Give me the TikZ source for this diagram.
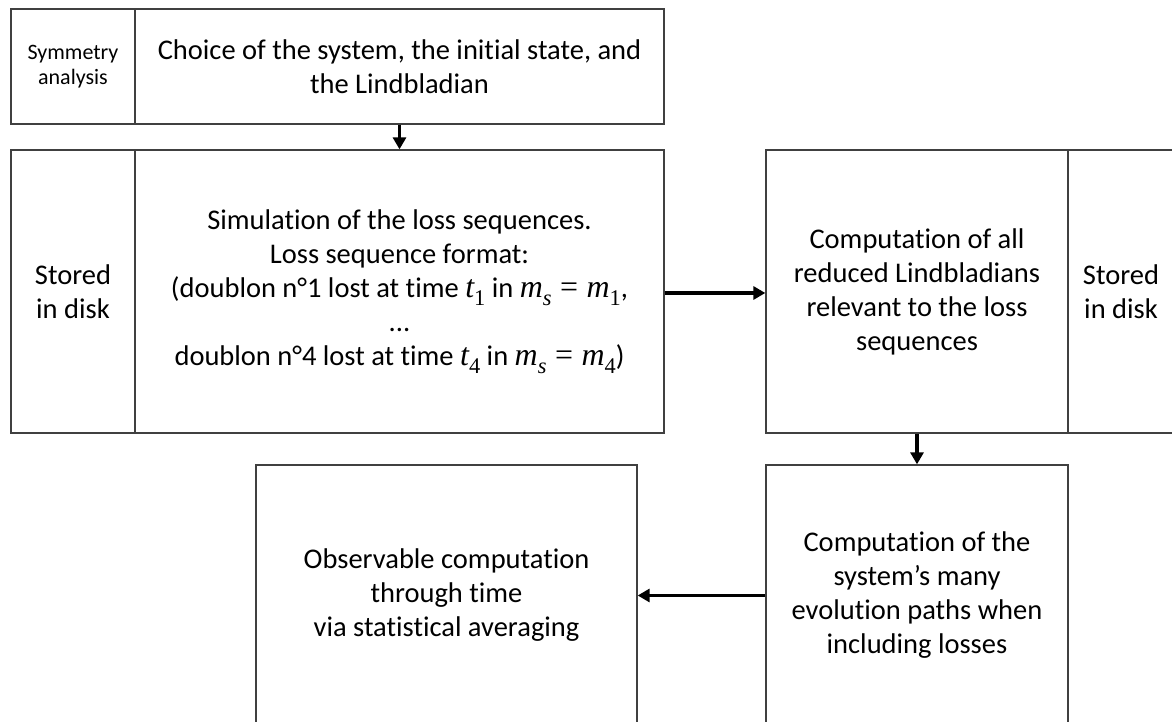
\documentclass[tikz,border=0pt]{standalone}
\usepackage{fontspec}
\setmainfont{Carlito}[Ligatures=NoCommon]
\newfontfamily\mfont{Liberation Serif}[Scale=1.12]
\newcommand\mvar[1]{{\mfont\itshape #1}}
\newcommand\msub[1]{\raisebox{-0.28em}{\fontsize{20}{20}\selectfont\mfont #1}}
\newcommand\meq{\hspace{0.3em}{\mfont =}\hspace{0.3em}}
\usetikzlibrary{arrows.meta}
\begin{document}
\begin{tikzpicture}[x=1pt,y=1pt,
  box/.style={draw=black!75, line width=1.3pt, rectangle, inner sep=0pt, align=center,
    font=\fontsize{28.5}{34}\selectfont},
  smallbox/.style={box, font=\fontsize{22}{25}\selectfont},
  flow/.style={line width=3.5pt, -{Triangle[length=12pt,width=13pt]}}]
\useasboundingbox (0,0) rectangle (1172,722);
\node[smallbox, minimum width=124pt, minimum height=115pt] (sym) at (73,655.5) {Symmetry\\analysis};
\node[box, minimum width=529pt, minimum height=115pt] (choice) at (399.5,655.5) {Choice of the system, the initial state, and\\the Lindbladian};
\node[box, minimum width=124pt, minimum height=283pt] (stL) at (73,430.5) {Stored\\in disk};
\node[box, minimum width=529pt, minimum height=283pt] (sim) at (399.5,430.5) {Simulation of the loss sequences.\\Loss sequence format:\\(doublon n°1 lost at time \mvar{t}\msub{1} in \mvar{m}\msub{\itshape s}\meq\mvar{m}\msub{1},\\...\\doublon n°4 lost at time \mvar{t}\msub{4} in \mvar{m}\msub{\itshape s}\meq\mvar{m}\msub{4})};
\node[box, minimum width=302pt, minimum height=283pt] (red) at (917,430.5) {Computation of all\\reduced Lindbladians\\relevant to the loss\\sequences};
\node[box, minimum width=106pt, minimum height=283pt] (stR) at (1121,430.5) {Stored\\in disk};
\node[box, minimum width=302pt, minimum height=261pt] (evo) at (917,126.5) {Computation of the\\system’s many\\evolution paths when\\including losses};
\node[box, minimum width=381pt, minimum height=261pt] (obs) at (446.5,126.5) {Observable computation\\through time\\via statistical averaging};
\draw[flow] (choice.south) -- (sim.north);
\draw[flow] ([yshift=-1.5pt]sim.east) -- ([yshift=-1.5pt]red.west);
\draw[flow] (red.south) -- (evo.north);
\draw[flow] (evo.west) -- (obs.east);
\end{tikzpicture}
\end{document}
